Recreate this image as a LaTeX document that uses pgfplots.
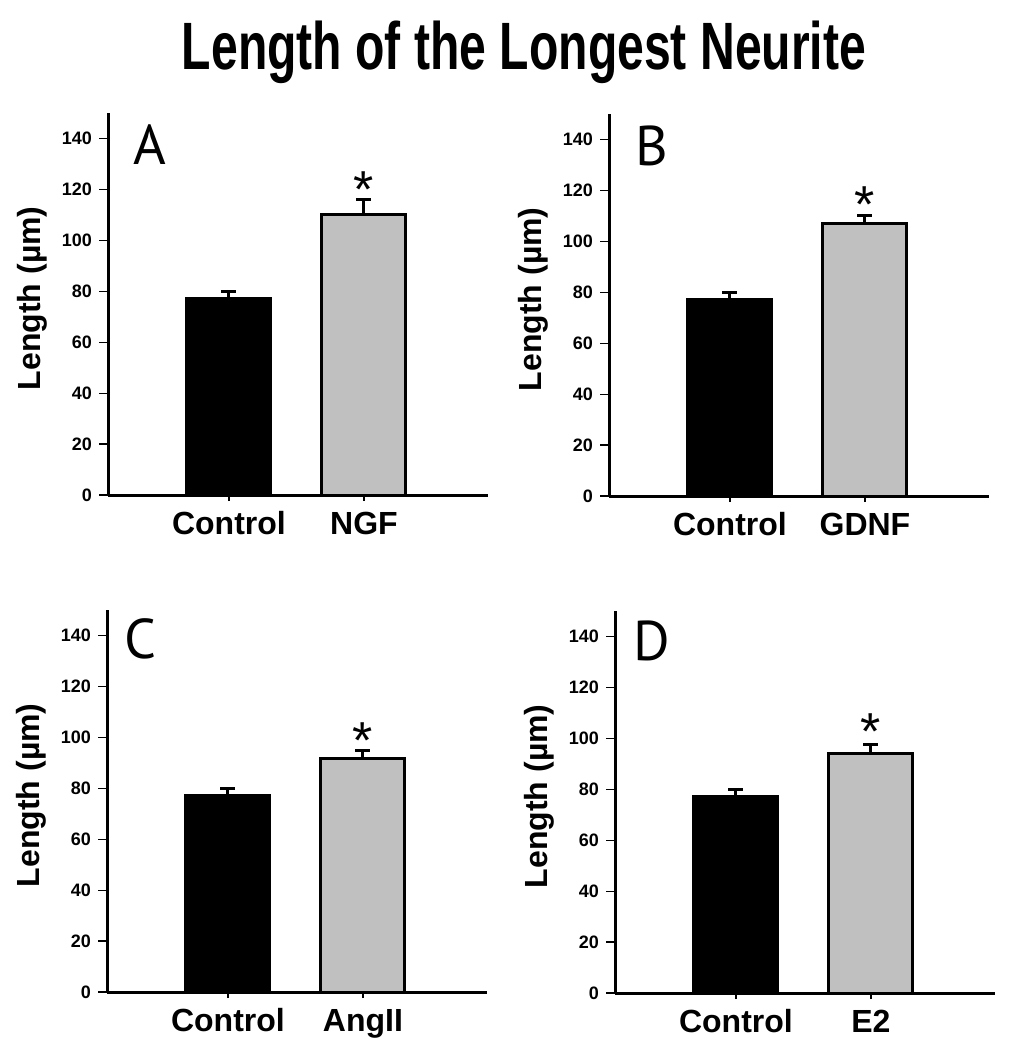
\documentclass[border=0pt]{standalone}
\usepackage{pgfplots}
\pgfplotsset{compat=1.18}
\usepackage{fontspec}
\usepackage{graphicx}
\setmainfont{Liberation Sans}
\newfontfamily\letterfont{PT Sans}

\definecolor{bargray}{RGB}{192,192,192}

% 1 px of the reference = 0.5pt
\pgfplotsset{
  panel/.style={
    width=190pt, height=191pt, scale only axis,
    anchor=south west,
    axis x line*=bottom, axis y line*=left,
    axis line style={line width=1.5pt},
    xmin=0.104, xmax=2.919, ymin=0, ymax=150,
    ytick={0,20,...,140},
    xtick={1,2},
    tick align=outside,
    major tick length=4.5pt,
    tick style={line width=0.6pt, black},
    xtick style={/pgfplots/major tick length=3pt},
    ybar, bar width=0.622, bar shift=0pt,
    /pgf/number format/assume math mode=true,
    yticklabel style={font=\fontsize{9pt}{10pt}\selectfont\bfseries},
    xticklabel style={font=\fontsize{16pt}{18pt}\selectfont\bfseries,
      anchor=north, text height=11.7pt, text depth=3.5pt, inner sep=0pt, yshift=-3.5pt},
    ylabel={Length (µm)},
    ylabel style={font=\fontsize{16pt}{18pt}\selectfont\bfseries,
      at={(axis description cs:-0.178,0.515)}, anchor=base},
    error bars/y dir=plus, error bars/y explicit,
    error bars/error mark=|,
    error bars/error bar style={line width=1.5pt, black},
    error bars/error mark options={line width=1.5pt, mark size=3.75pt, black},
    clip=false,
  },
  ctrl/.style={fill=black, draw=black, line width=1.5pt},
  treat/.style={fill=bargray, draw=black, line width=1.5pt},
}
\newcommand{\plabel}{\letterfont\fontsize{28pt}{30pt}\selectfont}
\newcommand{\astfont}{\fontsize{26pt}{28pt}\selectfont}

\begin{document}
\begin{tikzpicture}
\useasboundingbox (0pt,0pt) rectangle (504pt,-525pt);

\node[anchor=base, inner sep=0pt] at (262pt,-34.5pt)
  {\scalebox{0.718}[1]{\fontsize{33.5pt}{36pt}\selectfont\bfseries Length of the Longest Neurite}};

% A
\begin{axis}[panel, at={(54pt,-247.5pt)}, xticklabels={Control,NGF}]
\addplot[ctrl] coordinates {(1,77) +- (0,3)};
\addplot[treat] coordinates {(2,110) +- (0,6)};
\node[anchor=base west, inner sep=0pt] at (axis cs:0.289,129.6) {\plabel A};
\node[anchor=north, inner sep=0pt] at (axis cs:2,127) {\astfont *};
\end{axis}

% B
\begin{axis}[panel, at={(304.5pt,-248pt)}, xticklabels={Control,GDNF}]
\addplot[ctrl] coordinates {(1,77) +- (0,3)};
\addplot[treat] coordinates {(2,107) +- (0,3.2)};
\node[anchor=base west, inner sep=0pt] at (axis cs:0.30,129.8) {\plabel B};
\node[anchor=north, inner sep=0pt] at (axis cs:2,121.6) {\astfont *};
\end{axis}

% C
\begin{axis}[panel, at={(53.5pt,-496pt)}, xticklabels={Control,AngII}]
\addplot[ctrl] coordinates {(1,77) +- (0,3)};
\addplot[treat] coordinates {(2,91.5) +- (0,3.3)};
\node[anchor=base west, inner sep=0pt] at (axis cs:0.23,131) {\plabel C};
\node[anchor=north, inner sep=0pt] at (axis cs:2,106) {\astfont *};
\end{axis}

% D
\begin{axis}[panel, at={(307.5pt,-496.5pt)}, xticklabels={Control,E2}]
\addplot[ctrl] coordinates {(1,77) +- (0,3)};
\addplot[treat] coordinates {(2,94) +- (0,3.5)};
\node[anchor=base west, inner sep=0pt] at (axis cs:0.235,130.6) {\plabel D};
\node[anchor=north, inner sep=0pt] at (axis cs:2,110) {\astfont *};
\end{axis}
\end{tikzpicture}
\end{document}
